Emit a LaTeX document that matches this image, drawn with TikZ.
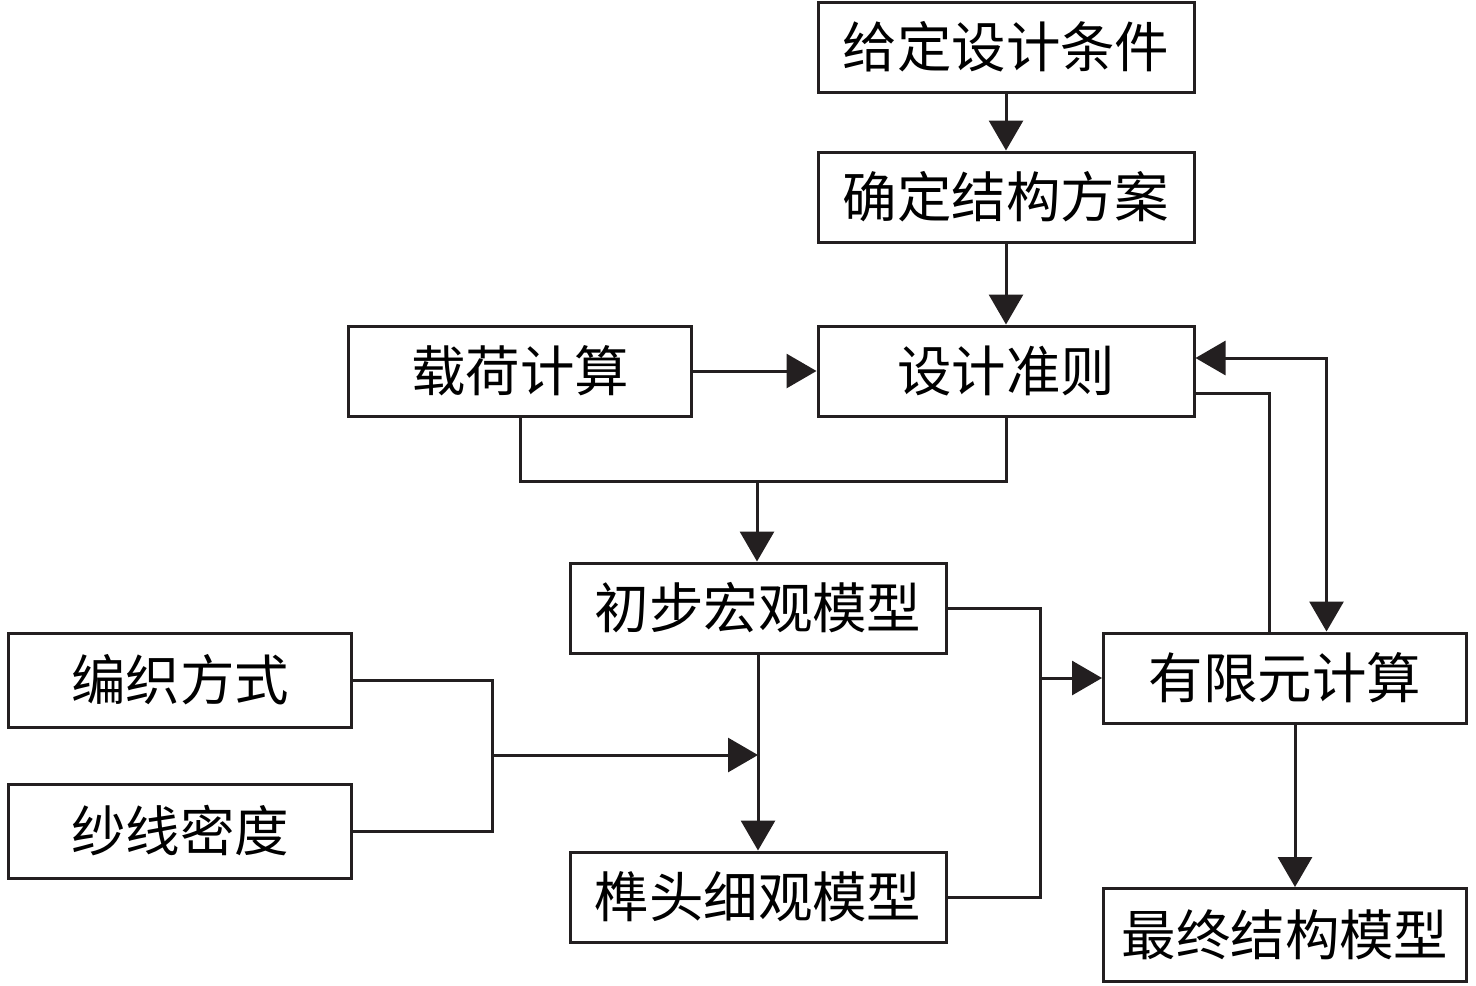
\documentclass[tikz,border=0pt]{standalone}
\usepackage{fontspec}
\newfontfamily\cjk{Noto Sans CJK SC}
\usepackage{xcolor}
\definecolor{cLine}{HTML}{231F20}
\usetikzlibrary{positioning,arrows.meta,calc}
\tikzset{
  node-box/.style={draw=cLine,line width=1.7pt,inner sep=0pt,
    minimum height=18mm,minimum width=75.2mm,align=center,
    font=\cjk\fontsize{31}{36}\selectfont},
  node-side/.style={minimum width=68.6mm},
  node-right/.style={minimum width=72.6mm},
  arrow/.style={-{Triangle[length=6mm,width=6.8mm]},line width=1.7pt,draw=cLine},
  arrow-both/.style={{Triangle[length=6mm,width=6.8mm]}-{Triangle[length=6mm,width=6.8mm]},
    line width=1.7pt,draw=cLine},
  link/.style={line width=1.7pt,draw=cLine},
}

\begin{document}
\begin{tikzpicture}[x=0.2mm,y=-0.2mm]
  \useasboundingbox (0,0) rectangle (1476,985);
  % 主线
  \node[node-box]                              (cond)  at (1006,47)  {给定设计条件};
  \node[node-box]                              (plan)  at (1006,197) {确定结构方案};
  \node[node-box]                              (rule)  at (1006,371) {设计准则};
  \node[node-box,node-side]                    (load)  at (520,371)  {载荷计算};
  \node[node-box]                              (macro) at (758,608)  {初步宏观模型};
  \node[node-box]                              (micro) at (758,897)  {榫头细观模型};
  \node[node-box,node-right]                   (fem)   at (1285,678) {有限元计算};
  \node[node-box,node-right,minimum height=18.6mm] (final) at (1285,935) {最终结构模型};
  % 细观参数
  \node[node-box,node-side,minimum height=18.8mm] (weave) at (180,680) {编织方式};
  \node[node-box,node-side,minimum height=18.8mm] (yarn)  at (180,831) {纱线密度};

  \coordinate (j-top)   at (757,481);
  \coordinate (j-left)  at (492,755);
  \coordinate (j-right) at (1040,678);

  \draw[arrow] (cond) -- (plan);
  \draw[arrow] (plan) -- (rule);
  \draw[arrow] (load) -- (rule);
  \draw[link]  (load.south) |- (j-top) -| (rule.south);
  \draw[arrow] (j-top) -- (j-top |- macro.north);
  \draw[arrow] (macro) -- (micro);
  \draw[link]  (weave.east) -| (j-left) |- (yarn.east);
  \draw[arrow] (j-left) -- (j-left -| macro.south);
  \draw[link]  (macro.east) -| (j-right) |- (micro.east);
  \draw[arrow] (j-right) -- (fem.west);
  \draw[arrow-both] ([yshift=2.6mm]rule.east) -| ([xshift=8.3mm]fem.north);
  \draw[link]  ([yshift=-4.4mm]rule.east) -| ([xshift=-3.1mm]fem.north);
  \draw[arrow] ([xshift=2mm]fem.south) -- ([xshift=2mm]final.north);
\end{tikzpicture}
\end{document}
